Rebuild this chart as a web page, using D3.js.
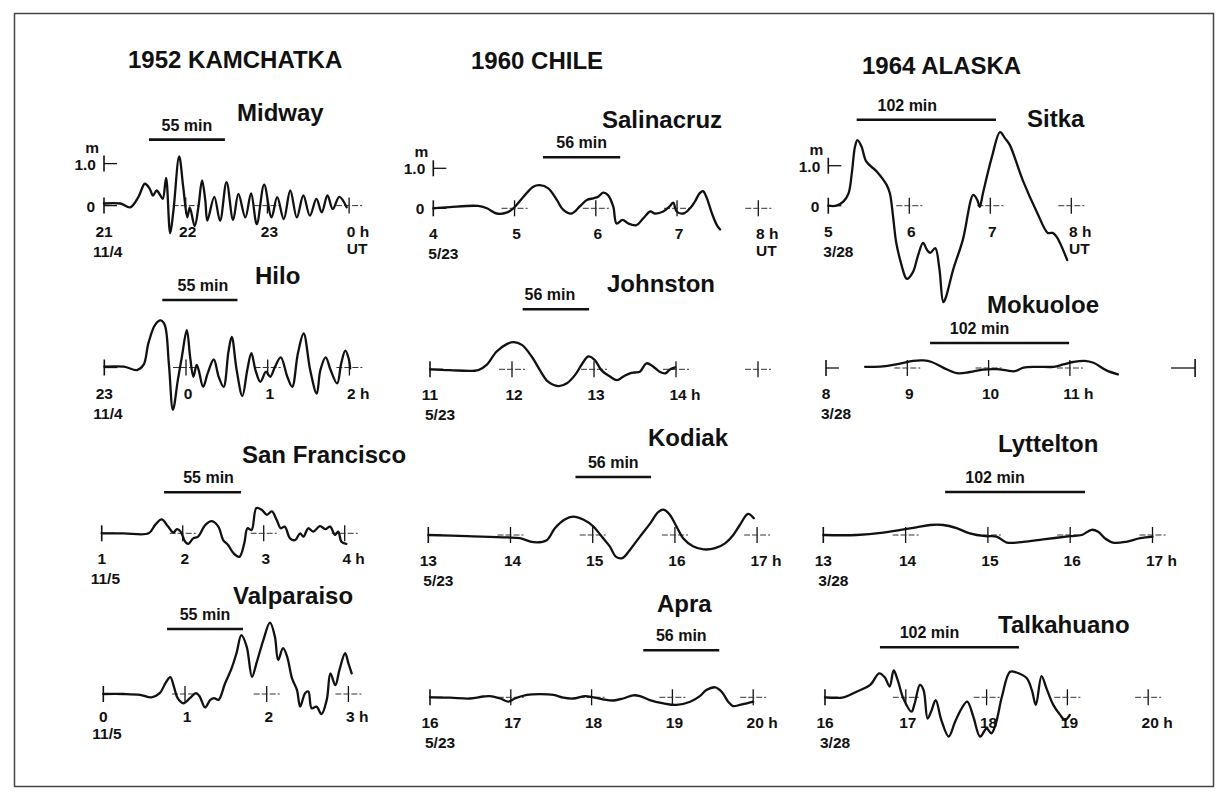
<!DOCTYPE html>
<html>
<head>
<meta charset="utf-8">
<script src="https://cdn.jsdelivr.net/npm/d3@7"></script>
<style>
  body { margin: 0; background: #fff; }
  svg text { font-family: "Liberation Sans", Arial, Helvetica, sans-serif; font-weight: bold; fill: #111; }
</style>
</head>
<body>
<script>
// ---- data ----
var columnTitles = ["1952 KAMCHATKA", "1960 CHILE", "1964 ALASKA"];
var stations = ["Midway", "Hilo", "San Francisco", "Valparaiso",
                "Salinacruz", "Johnston", "Kodiak", "Apra",
                "Sitka", "Mokuoloe", "Lyttelton", "Talkahuano"];
var dates = ["11/4", "11/4", "11/5", "11/5", "5/23", "5/23", "5/23", "5/23", "3/28", "3/28", "3/28", "3/28"];
var startHour = [21, 23, 1, 0, 4, 11, 13, 16, 5, 8, 13, 16];
var lastLabelHour = [24, 26, 4, 3, 8, 14, 17, 20, 8, 11, 17, 20];
var lastCrossHour = [24, 26, 4, 3, 8, 15, 17, 20, 8, 11, 17, 20];
var axisEndMark = [null, null, null, null, null, null, null, null, null, 12.54, null, null];
var periodMin = [55, 55, 55, 55, 56, 56, 56, 56, 102, 102, 102, 102];
var barStart = [21.55, 23.71, 1.77, 0.78, 5.35, 12.13, 14.79, 18.64, 5.35, 9.28, 14.48, 16.68];
var barEnd   = [22.48, 24.63, 2.72, 1.71, 6.30, 12.94, 15.71, 19.58, 7.07, 10.99, 16.18, 18.40];
var unitPanels = ["Midway", "Salinacruz", "Sitka"]; // these carry the m / 1.0 / 0 scale and "UT"

// traces: [hour, metres]
var midway = [[21.00,0.05],[21.20,0.05],[21.32,-0.04],[21.42,0.20],[21.50,0.52],[21.56,0.40],[21.60,0.24],[21.645,0.36],[21.69,0.24],[21.72,0.16],[21.76,0.66],[21.81,-0.66],[21.85,-0.12],[21.92,1.17],[21.97,0.44],[22.02,-0.28],[22.05,-0.04],[22.11,-0.49],[22.155,-0.04],[22.20,0.60],[22.24,0.12],[22.265,-0.36],[22.35,0.21],[22.42,-0.36],[22.50,0.56],[22.58,-0.34],[22.645,0.28],[22.73,-0.28],[22.80,0.29],[22.87,-0.44],[22.96,0.50],[23.05,-0.28],[23.12,0.20],[23.20,-0.32],[23.28,0.36],[23.36,-0.28],[23.44,0.24],[23.52,-0.24],[23.60,0.16],[23.665,-0.16],[23.735,0.24],[23.80,-0.08],[23.88,0.21],[23.97,-0.04]];
var hilo = [[23.00,0.02],[23.24,0.02],[23.40,-0.06],[23.48,0.06],[23.54,0.58],[23.62,1.01],[23.69,1.12],[23.74,1.01],[23.79,0.10],[23.84,-1.01],[23.90,-0.30],[23.95,0.26],[24.01,0.89],[24.05,0.26],[24.09,-0.22],[24.13,0.06],[24.155,-0.06],[24.21,-0.46],[24.265,-0.14],[24.34,0.19],[24.40,-0.22],[24.46,-0.46],[24.52,0.38],[24.56,0.73],[24.62,-0.06],[24.69,-0.68],[24.75,-0.06],[24.80,0.34],[24.85,-0.06],[24.91,-0.34],[24.98,-0.10],[25.03,-0.22],[25.09,0.02],[25.16,0.24],[25.24,-0.22],[25.30,-0.46],[25.37,0.34],[25.44,0.81],[25.52,-0.06],[25.60,-0.62],[25.645,-0.06],[25.71,0.24],[25.77,-0.06],[25.85,-0.38],[25.90,0.10],[25.95,0.40],[25.99,0.22],[26.01,-0.02]];
var sanFrancisco = [[1.00,0],[1.27,0],[1.58,0],[1.66,0.20],[1.74,0.33],[1.82,0.16],[1.885,0.02],[1.93,0.10],[1.975,0.04],[2.03,-0.20],[2.07,-0.25],[2.13,-0.12],[2.19,-0.08],[2.28,0.20],[2.36,0.29],[2.44,0.16],[2.50,-0.16],[2.56,-0.28],[2.63,-0.48],[2.70,-0.56],[2.76,-0.24],[2.80,0.12],[2.85,0.08],[2.91,0.60],[2.975,0.56],[3.04,0.44],[3.10,0.52],[3.16,0.32],[3.21,0.12],[3.26,0.16],[3.325,-0.12],[3.39,-0.16],[3.45,0],[3.49,-0.08],[3.55,0.12],[3.61,0.04],[3.695,0.17],[3.76,0.10],[3.82,0.16],[3.88,-0.04],[3.92,0.04],[3.96,-0.20],[4.02,-0.25]];
var valparaiso = [[0,0],[0.245,0],[0.45,-0.02],[0.59,-0.08],[0.69,0.02],[0.77,0.29],[0.82,0.40],[0.865,0.17],[0.91,-0.10],[0.98,-0.22],[1.06,-0.10],[1.135,0.02],[1.18,-0.06],[1.245,-0.32],[1.31,-0.14],[1.355,-0.10],[1.41,-0.14],[1.49,0.25],[1.57,0.61],[1.63,0.97],[1.69,1.40],[1.755,1.13],[1.82,0.41],[1.88,0.77],[1.96,1.29],[2.04,1.70],[2.10,1.37],[2.14,0.81],[2.20,1.09],[2.25,0.89],[2.31,0.37],[2.37,0.10],[2.41,-0.30],[2.47,0.02],[2.51,0.06],[2.55,-0.34],[2.61,-0.30],[2.67,-0.48],[2.735,-0.14],[2.78,0.49],[2.84,0.21],[2.89,0.57],[2.96,0.97],[3.00,0.73],[3.04,0.49]];
var salinacruz = [[4.00,0],[4.20,0.03],[4.55,0.06],[4.66,0],[4.78,-0.13],[4.90,-0.11],[4.985,0],[5.11,0.29],[5.23,0.54],[5.31,0.58],[5.415,0.50],[5.52,0.21],[5.60,-0.04],[5.70,-0.13],[5.80,0.04],[5.89,0.21],[5.97,0.25],[6.03,0.29],[6.09,0.39],[6.15,0.33],[6.215,0.04],[6.256,-0.38],[6.33,-0.29],[6.40,-0.38],[6.50,-0.42],[6.585,-0.25],[6.67,-0.08],[6.73,-0.13],[6.83,-0.08],[6.905,0.04],[6.954,0.14],[6.995,-0.08],[7.08,-0.13],[7.16,0],[7.22,0.17],[7.28,0.38],[7.32,0.43],[7.36,0.29],[7.43,-0.13],[7.49,-0.42],[7.53,-0.53]];
var johnston = [[11,0],[11.24,-0.02],[11.59,-0.02],[11.69,0.11],[11.81,0.44],[11.935,0.63],[12.02,0.68],[12.12,0.61],[12.24,0.32],[12.34,-0.02],[12.44,-0.31],[12.565,-0.42],[12.67,-0.35],[12.77,-0.14],[12.86,0.15],[12.93,0.32],[13.01,0.23],[13.09,-0.02],[13.195,-0.18],[13.28,-0.27],[13.36,-0.18],[13.44,-0.10],[13.50,-0.08],[13.56,-0.06],[13.64,0.15],[13.72,0.07],[13.80,-0.06],[13.87,-0.10],[13.93,0],[13.99,0.05]];
var kodiak = [[13,0],[13.47,-0.03],[13.95,-0.06],[14.115,-0.08],[14.28,-0.18],[14.44,-0.13],[14.54,0.17],[14.66,0.39],[14.76,0.46],[14.89,0.38],[15.01,0.21],[15.11,-0.04],[15.21,-0.29],[15.28,-0.54],[15.36,-0.58],[15.45,-0.38],[15.575,-0.04],[15.70,0.29],[15.80,0.58],[15.87,0.63],[15.94,0.50],[16.02,0.21],[16.10,-0.08],[16.22,-0.28],[16.35,-0.36],[16.49,-0.33],[16.61,-0.21],[16.71,0],[16.79,0.25],[16.89,0.53],[16.96,0.42]];
var apra = [[16,0],[16.25,-0.01],[16.495,-0.03],[16.66,0.02],[16.74,0.03],[16.87,-0.03],[16.97,-0.11],[17.05,-0.03],[17.20,0.06],[17.36,0.08],[17.53,0.06],[17.65,-0.01],[17.77,-0.03],[17.92,0.03],[18.02,0],[18.14,-0.05],[18.27,-0.08],[18.39,-0.03],[18.515,0.05],[18.60,0.03],[18.72,-0.07],[18.89,-0.15],[19.05,-0.19],[19.22,-0.11],[19.34,0.03],[19.42,0.18],[19.53,0.25],[19.61,0.14],[19.69,-0.11],[19.75,-0.22],[19.835,-0.19],[19.92,-0.15],[20.00,-0.11]];
var sitka = [[5,0],[5.10,0],[5.185,0.10],[5.25,0.31],[5.29,0.81],[5.33,1.48],[5.36,1.64],[5.41,1.48],[5.47,1.10],[5.60,0.85],[5.72,0.52],[5.76,0.31],[5.80,-0.28],[5.84,-0.94],[5.91,-1.53],[5.95,-1.78],[5.97,-1.83],[6.045,-1.66],[6.11,-1.23],[6.17,-0.93],[6.22,-1.11],[6.26,-1.18],[6.32,-1.06],[6.37,-1.55],[6.42,-2.41],[6.45,-2.30],[6.54,-1.61],[6.66,-0.86],[6.79,0.27],[6.84,0.14],[6.87,-0.03],[6.91,0.32],[7.02,1.22],[7.12,1.84],[7.18,1.69],[7.24,1.52],[7.40,0.64],[7.58,-0.18],[7.71,-0.68],[7.77,-0.68],[7.82,-0.78],[7.95,-1.36]];
var mokuoloe = [[8.48,0.03],[8.70,0.04],[8.91,0.11],[9.07,0.18],[9.20,0.19],[9.30,0.15],[9.44,0.01],[9.61,-0.13],[9.77,-0.10],[9.93,-0.04],[10.10,-0.03],[10.22,-0.06],[10.32,-0.08],[10.43,0.01],[10.59,0.03],[10.80,0.03],[10.92,0.09],[11.04,0.15],[11.18,0.18],[11.29,0.13],[11.45,-0.06],[11.59,-0.16]];
var lyttelton = [[13,0],[13.405,0],[13.73,0.06],[13.94,0.13],[14.13,0.19],[14.30,0.25],[14.46,0.25],[14.62,0.17],[14.78,0.04],[14.97,-0.03],[15.105,-0.04],[15.23,-0.19],[15.43,-0.17],[15.67,-0.11],[16.00,-0.03],[16.14,0],[16.26,0.13],[16.34,0.08],[16.42,-0.08],[16.52,-0.19],[16.68,-0.17],[16.85,-0.08],[17.00,-0.04]];
var talkahuano = [[16,0],[16.23,0],[16.39,0.14],[16.56,0.31],[16.67,0.60],[16.74,0.50],[16.80,0.27],[16.85,0.67],[16.90,0.43],[16.97,-0.03],[17.07,-0.36],[17.11,-0.15],[17.175,0.31],[17.22,0.18],[17.27,-0.53],[17.32,-0.32],[17.37,-0.07],[17.44,-0.57],[17.53,-0.98],[17.61,-0.61],[17.69,-0.28],[17.76,-0.11],[17.835,-0.48],[17.92,-0.98],[18.00,-0.78],[18.06,-0.90],[18.115,-0.65],[18.19,0.02],[18.29,0.64],[18.37,0.62],[18.495,0.48],[18.56,0.18],[18.61,-0.19],[18.68,0.53],[18.74,0.23],[18.825,-0.19],[18.91,-0.44],[18.97,-0.57],[19.03,-0.44]];

var traces = [midway, hilo, sanFrancisco, valparaiso, salinacruz, johnston, kodiak, apra,
              sitka, mokuoloe, lyttelton, talkahuano];

// ---- layout (pixels) ----
var W = 1229, H = 805;
var titlePos = [{x: 128, y: 68}, {x: 471, y: 69}, {x: 862, y: 74}];
var layout = [
  {x0: 104,   k: 81.7,  base: 205.6, ppm: 42, nameX: 237, nameY: 121, barDy: 66,   labDx: 0},
  {x0: 104.3, k: 81.7,  base: 367.5, ppm: 42, nameX: 255, nameY: 284, barDy: 67.5, labDx: 3},
  {x0: 101.7, k: 81,    base: 533.3, ppm: 42, nameX: 242, nameY: 463, barDy: 41,   labDx: 6},
  {x0: 103.3, k: 81.7,  base: 694,   ppm: 42, nameX: 233, nameY: 604, barDy: 65,   labDx: 0, hourDy: 28, dateDy: 45},
  {x0: 433.3, k: 81.25, base: 208.3, ppm: 40, nameX: 602, nameY: 128, barDy: 51,   labDx: 0},
  {x0: 430,   k: 82,    base: 369.3, ppm: 40, nameX: 607, nameY: 292, barDy: 60,   labDx: -6},
  {x0: 428.3, k: 82.2,  base: 535,   ppm: 40, nameX: 648, nameY: 446, barDy: 58,   labDx: 0},
  {x0: 430,   k: 80.8,  base: 697.3, ppm: 40, nameX: 657, nameY: 612, barDy: 47,   labDx: 0},
  {x0: 828.3, k: 81,    base: 205.7, ppm: 40, nameX: 1027, nameY: 127, barDy: 86,  labDx: -19},
  {x0: 826,   k: 81.3,  base: 368,   ppm: 40, nameX: 987, nameY: 313, barDy: 25,   labDx: -20},
  {x0: 823.3, k: 82.3,  base: 535,   ppm: 40, nameX: 998, nameY: 452, barDy: 43,   labDx: -20},
  {x0: 825,   k: 80.8,  base: 697.3, ppm: 40, nameX: 998, nameY: 633, barDy: 50,   labDx: -20}
];
var axisFs = 15.5, nameFs = 24, titleFs = 24, barFs = 16;
var digitW = axisFs * 0.556;

var svg = d3.select("body").append("svg")
  .attr("width", W).attr("height", H);

// frame
svg.append("rect")
  .attr("x", 14.5).attr("y", 13.5).attr("width", 1199).attr("height", 773)
  .attr("fill", "none").attr("stroke", "#444").attr("stroke-width", 1.5);

// column titles
svg.selectAll(".ctitle")
  .data(columnTitles)
  .enter().append("text")
  .attr("class", "ctitle")
  .attr("x", function(d, i) { return titlePos[i].x; })
  .attr("y", function(d, i) { return titlePos[i].y; })
  .attr("font-size", titleFs + "px")
  .text(function(d) { return d; });

var line = d3.line().curve(d3.curveCatmullRom.alpha(0.5));

stations.forEach(function(name, i) {
  var L = layout[i];
  var h0 = startHour[i];
  var x = d3.scaleLinear().domain([h0, h0 + 1]).range([L.x0, L.x0 + L.k]);
  var y = d3.scaleLinear().domain([0, 1]).range([L.base, L.base - L.ppm]);
  var g = svg.append("g").attr("class", "panel");
  var hourDy = L.hourDy || 31, dateDy = L.dateDy || 51;

  // start marker |-
  g.append("line").attr("x1", x(h0)).attr("x2", x(h0))
    .attr("y1", y(0) - 8).attr("y2", y(0) + 8)
    .attr("stroke", "#111").attr("stroke-width", 1.6);
  g.append("line").attr("x1", x(h0)).attr("x2", x(h0) + 13)
    .attr("y1", y(0)).attr("y2", y(0))
    .attr("stroke", "#111").attr("stroke-width", 1.3);

  // hour crosses
  var crossHours = d3.range(h0 + 1, lastCrossHour[i] + 1);
  g.selectAll(".vcross").data(crossHours).enter().append("line")
    .attr("x1", function(h) { return x(h); }).attr("x2", function(h) { return x(h); })
    .attr("y1", y(0) - 8).attr("y2", y(0) + 8)
    .attr("stroke", "#111").attr("stroke-width", 1.3);
  g.selectAll(".hcross").data(crossHours).enter().append("line")
    .attr("x1", function(h) { return x(h) - 13; }).attr("x2", function(h) { return x(h) + 13; })
    .attr("y1", y(0)).attr("y2", y(0))
    .attr("stroke", "#333").attr("stroke-width", 1)
    .attr("stroke-dasharray", "6,2");

  // right end marker -|
  if (axisEndMark[i] !== null) {
    var xe = x(axisEndMark[i]);
    g.append("line").attr("x1", xe).attr("x2", xe)
      .attr("y1", y(0) - 9).attr("y2", y(0) + 9)
      .attr("stroke", "#111").attr("stroke-width", 1.6);
    g.append("line").attr("x1", xe - 24).attr("x2", xe)
      .attr("y1", y(0)).attr("y2", y(0))
      .attr("stroke", "#111").attr("stroke-width", 1.3);
  }

  // hour labels
  var labelHours = d3.range(h0, lastLabelHour[i] + 1);
  labelHours.forEach(function(h) {
    var s = String(h % 24);
    var cx = x(h) + (h === h0 ? 0 : 2);
    if (h === lastLabelHour[i]) {
      g.append("text").attr("x", cx - s.length * digitW / 2).attr("y", y(0) + hourDy)
        .attr("font-size", axisFs + "px").text(s + " h");
      if (unitPanels.indexOf(name) >= 0) {
        g.append("text").attr("x", cx - s.length * digitW / 2).attr("y", y(0) + 48)
          .attr("font-size", axisFs + "px").text("UT");
      }
    } else {
      g.append("text").attr("x", cx).attr("y", y(0) + hourDy)
        .attr("text-anchor", "middle").attr("font-size", axisFs + "px").text(s);
    }
  });

  // date
  g.append("text").attr("x", x(h0) - (i < 4 ? 11 : 5)).attr("y", y(0) + dateDy)
    .attr("font-size", axisFs + "px").text(dates[i]);

  // amplitude scale on the first row
  if (unitPanels.indexOf(name) >= 0) {
    g.append("line").attr("x1", x(h0)).attr("x2", x(h0))
      .attr("y1", y(1) - 8).attr("y2", y(1) + 8)
      .attr("stroke", "#111").attr("stroke-width", 1.6);
    g.append("line").attr("x1", x(h0)).attr("x2", x(h0) + 13)
      .attr("y1", y(1)).attr("y2", y(1))
      .attr("stroke", "#111").attr("stroke-width", 1.3);
    g.append("text").attr("x", x(h0) - 5).attr("y", y(1) - 11)
      .attr("text-anchor", "end").attr("font-size", axisFs + "px").text("m");
    g.append("text").attr("x", x(h0) - 8).attr("y", y(1) + 6)
      .attr("text-anchor", "end").attr("font-size", axisFs + "px").text("1.0");
    g.append("text").attr("x", x(h0) - 9).attr("y", y(0) + 6)
      .attr("text-anchor", "end").attr("font-size", axisFs + "px").text("0");
  }

  // period bar
  var by = L.base - L.barDy;
  g.append("line").attr("x1", x(barStart[i])).attr("x2", x(barEnd[i]))
    .attr("y1", by).attr("y2", by)
    .attr("stroke", "#111").attr("stroke-width", 2.6);
  g.append("text")
    .attr("x", (x(barStart[i]) + x(barEnd[i])) / 2 + L.labDx).attr("y", by - 9)
    .attr("text-anchor", "middle").attr("font-size", barFs + "px")
    .text(periodMin[i] + " min");

  // station name
  g.append("text").attr("x", L.nameX).attr("y", L.nameY)
    .attr("font-size", nameFs + "px").text(name);

  // trace
  g.append("path")
    .datum(traces[i])
    .attr("d", line.x(function(d) { return x(d[0]); }).y(function(d) { return y(d[1]); }))
    .attr("fill", "none").attr("stroke", "#111").attr("stroke-width", 2.3)
    .attr("stroke-linejoin", "round").attr("stroke-linecap", "round");
});
</script>
</body>
</html>
